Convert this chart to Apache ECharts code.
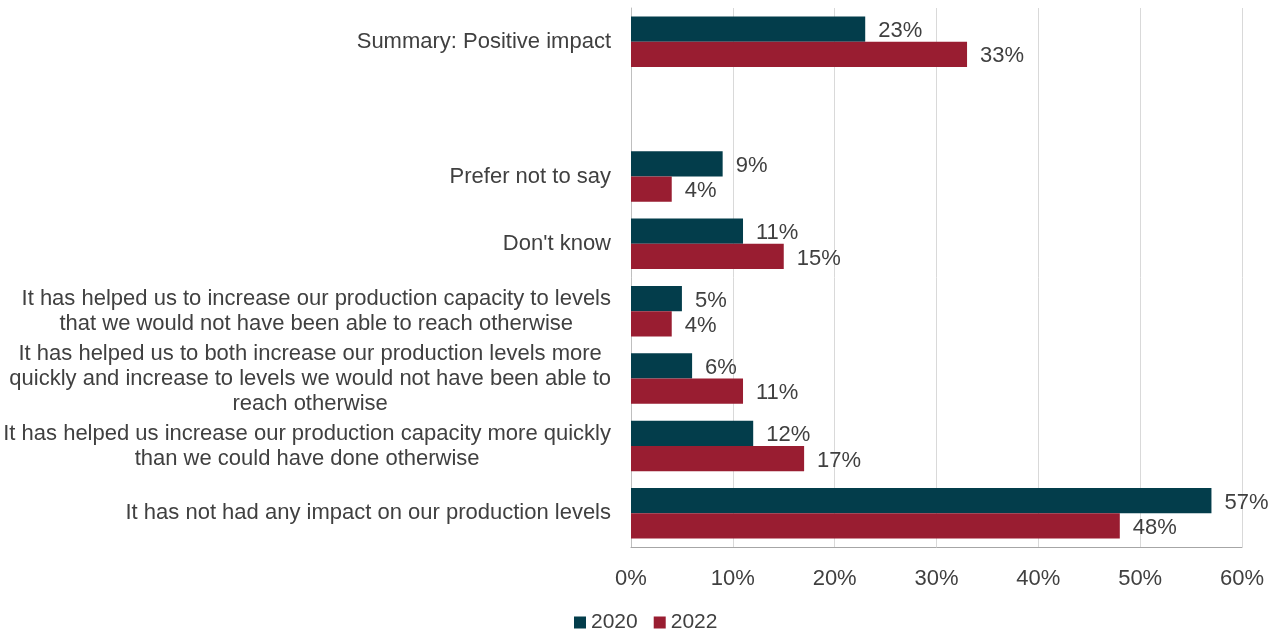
<!DOCTYPE html>
<html>
<head>
<meta charset="utf-8">
<script src="https://cdn.jsdelivr.net/npm/echarts@6/dist/echarts.min.js"></script>
<style>
  html, body { margin: 0; padding: 0; background: #ffffff; }
  #chart { width: 1282px; height: 633px; }
</style>
</head>
<body>
<div id="chart"></div>
<script>
// Categories, listed top to bottom (the empty entry leaves a gap under the summary row)
const categories = [
  'Summary: Positive impact',
  '',
  'Prefer not to say',
  "Don't know",
  'It has helped us to increase our production capacity to levels\nthat we would not have been able to reach otherwise',
  'It has helped us to both increase our production levels more\nquickly and increase to levels we would not have been able to\nreach otherwise',
  'It has helped us increase our production capacity more quickly\nthan we could have done otherwise',
  'It has not had any impact on our production levels'
];

// Share of respondents, percent
const values2020 = [23, null, 9, 11, 5, 6, 12, 57];
const values2022 = [33, null, 4, 15, 4, 11, 17, 48];

const seriesNames = ['2020', '2022'];
const xTicks = { min: 0, max: 60, interval: 10 };

const FONT = "'Liberation Sans', Arial, sans-serif";
const TEXT = '#404040';
const COLORS = ['#033d4b', '#991d31'];

const chart = echarts.init(document.getElementById('chart'), null, { renderer: 'canvas' });

const labelStyle = {
  show: true,
  position: 'right',
  distance: 13,
  offset: [0, 2],
  formatter: p => p.value + '%',
  color: TEXT,
  fontFamily: FONT,
  fontSize: 22
};

chart.setOption({
  animation: false,
  backgroundColor: '#ffffff',
  textStyle: { fontFamily: FONT },
  grid: { left: 631, right: 40, top: 8, bottom: 86, containLabel: false },
  legend: {
    data: seriesNames,
    left: 569,
    top: 607,
    icon: 'rect',
    itemWidth: 12,
    itemHeight: 12,
    itemGap: 16,
    textStyle: { color: TEXT, fontFamily: FONT, fontSize: 21 }
  },
  xAxis: {
    type: 'value',
    min: xTicks.min,
    max: xTicks.max,
    interval: xTicks.interval,
    axisLine: { show: true, lineStyle: { color: '#a6a6a6', width: 1 } },
    axisTick: { show: false },
    splitLine: { show: true, lineStyle: { color: '#d9d9d9', width: 1 } },
    axisLabel: {
      formatter: '{value}%',
      color: TEXT,
      fontFamily: FONT,
      fontSize: 22,
      margin: 21
    }
  },
  yAxis: {
    type: 'category',
    inverse: true,
    data: categories,
    axisLine: { show: true, lineStyle: { color: '#bfbfbf', width: 1 } },
    axisTick: { show: false },
    axisLabel: {
      margin: 20,
      interval: 0,
      color: TEXT,
      fontFamily: FONT,
      fontSize: 22,
      lineHeight: 25,
      formatter: v => v ? v.split('\n').map(l => '{c|' + l + '}').join('\n') : '',
      rich: {
        c: { align: 'center', color: TEXT, fontFamily: FONT, fontSize: 22, lineHeight: 25 }
      }
    }
  },
  series: [
    {
      name: seriesNames[0],
      type: 'bar',
      data: values2020,
      barGap: '0%',
      barCategoryGap: '25%',
      itemStyle: { color: COLORS[0] },
      label: labelStyle
    },
    {
      name: seriesNames[1],
      type: 'bar',
      data: values2022,
      barGap: '0%',
      barCategoryGap: '25%',
      itemStyle: { color: COLORS[1] },
      label: labelStyle
    }
  ]
});
</script>
</body>
</html>
